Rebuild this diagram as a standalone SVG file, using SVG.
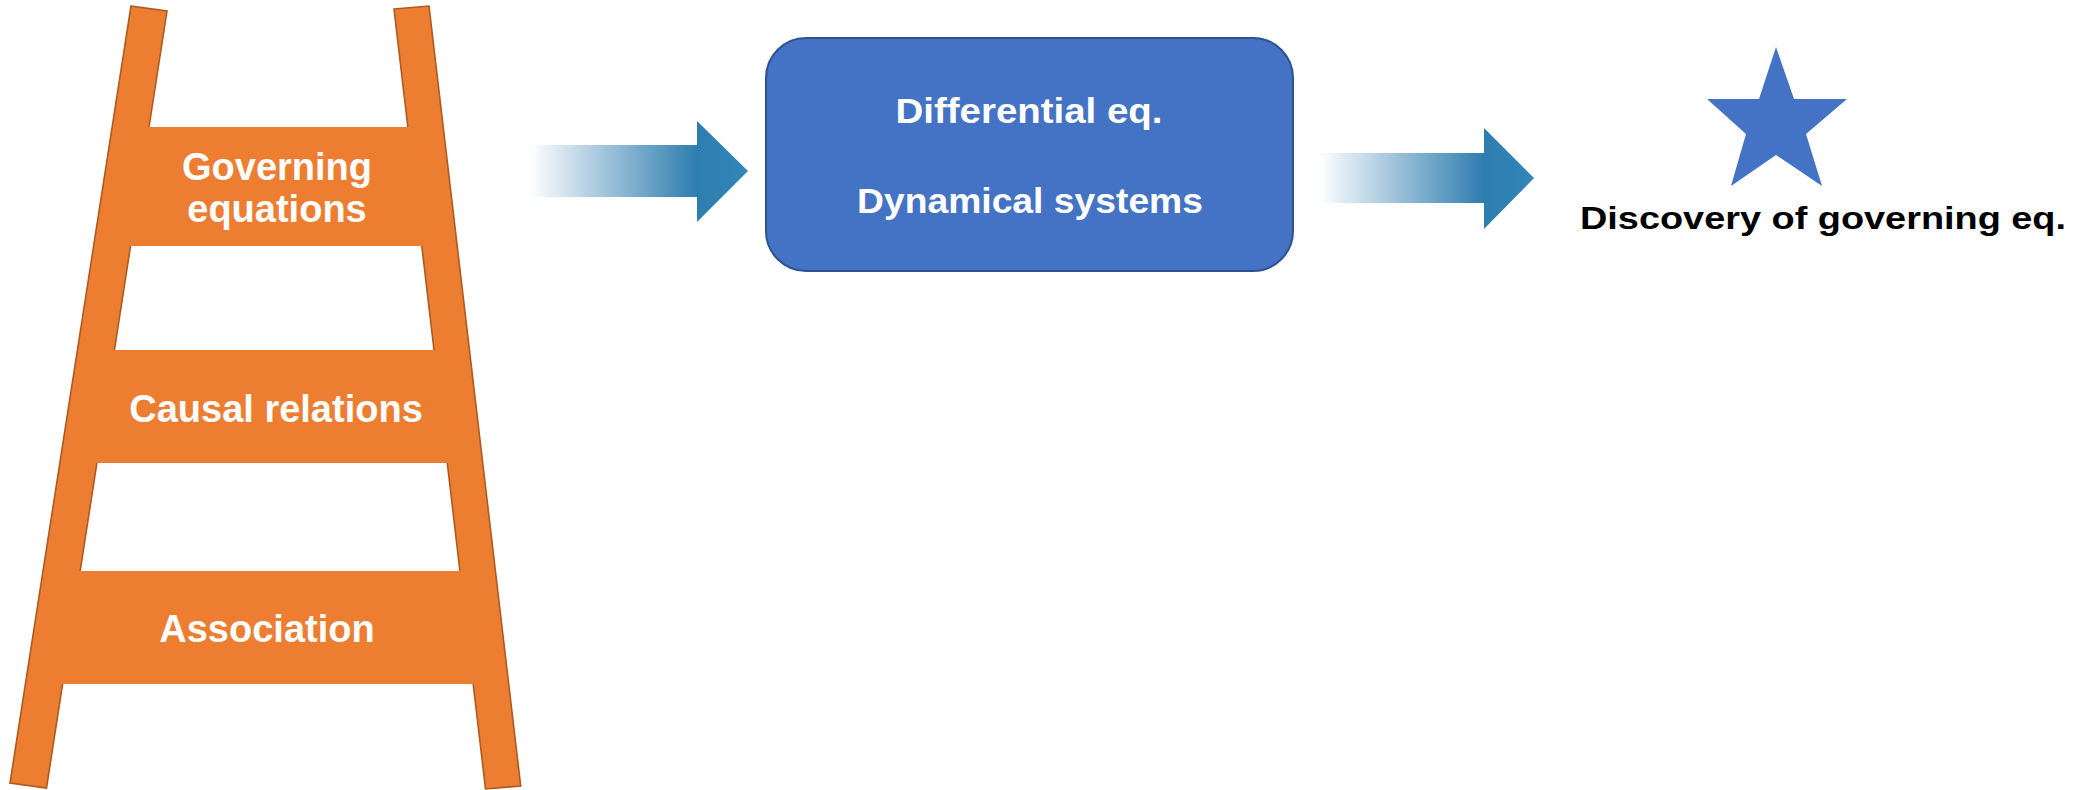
<svg xmlns="http://www.w3.org/2000/svg" width="2090" height="790" viewBox="0 0 2090 790">
  <defs>
    <linearGradient id="flowFill" x1="0" y1="0" x2="1" y2="0">
      <stop offset="0" stop-color="#FFFFFF" stop-opacity="0.2"/>
      <stop offset="0.08" stop-color="#EEF4F9"/>
      <stop offset="0.77" stop-color="#2E7DAF"/>
      <stop offset="1" stop-color="#3486B8"/>
    </linearGradient>
    <style>
      .rail { fill: #ED7D31; stroke: #AE5A21; stroke-width: 1.6; stroke-linejoin: miter; }
      .rung { fill: #ED7D31; stroke: none; }
      .ladder-label { font-family: "Liberation Sans", Arial, sans-serif; font-weight: bold; font-size: 38px; fill: #FFFFFF; text-anchor: middle; }
      .box { fill: #4472C4; stroke: #2F528F; stroke-width: 2; }
      .box-label { font-family: "Liberation Sans", Arial, sans-serif; font-weight: bold; font-size: 35px; fill: #FFFFFF; text-anchor: middle; }
      .flow { fill: url(#flowFill); stroke: none; }
      .star { fill: #4472C4; stroke: none; }
      .caption { font-family: "Liberation Sans", Arial, sans-serif; font-weight: bold; font-size: 32px; fill: #000000; text-anchor: middle; }
    </style>
  </defs>

  <!-- ladder: two rails with three labelled rungs -->
  <g id="ladder">
    <polygon class="rail" points="131,6 167,11 46.5,788 10,783"/>
    <polygon class="rail" points="394,9 429,6 520.7,786 485.5,789"/>
  </g>

  <g id="rung-governing">
    <polygon class="rung" points="146,127 411,127 425,246 127.6,246"/>
    <text class="ladder-label" x="277" y="180">Governing</text>
    <text class="ladder-label" x="277" y="222">equations</text>
  </g>

  <g id="rung-causal">
    <polygon class="rung" points="111.5,350 437,350 450.6,463 94,463"/>
    <text class="ladder-label" x="276" y="422">Causal relations</text>
  </g>

  <g id="rung-association">
    <polygon class="rung" points="77,571 463,571 476.6,684 59.7,684"/>
    <text class="ladder-label" x="267" y="642">Association</text>
  </g>

  <!-- model box -->
  <g id="model-box">
    <rect class="box" x="766" y="38" width="527" height="233" rx="40" ry="40"/>
    <text class="box-label" x="1029" y="123" textLength="267" lengthAdjust="spacingAndGlyphs">Differential eq.</text>
    <text class="box-label" x="1030" y="213" textLength="346" lengthAdjust="spacingAndGlyphs">Dynamical systems</text>
  </g>

  <!-- result: star with caption -->
  <g id="discovery">
    <polygon class="star" points="1776,47 1794,99 1847,99 1806,134 1822,186 1776,155 1731,186 1746,134 1707,99 1759,99"/>
    <text class="caption" x="1823" y="229" textLength="486" lengthAdjust="spacingAndGlyphs">Discovery of governing eq.</text>
  </g>

  <!-- connectors: fading block arrows -->
  <g id="connectors">
    <polygon class="flow" points="525,145 697,145 697,121 748,171 697,222 697,197 525,197"/>
    <polygon class="flow" points="1315,153 1484,153 1484,128 1534,178 1484,229 1484,203 1315,203"/>
  </g>
</svg>
